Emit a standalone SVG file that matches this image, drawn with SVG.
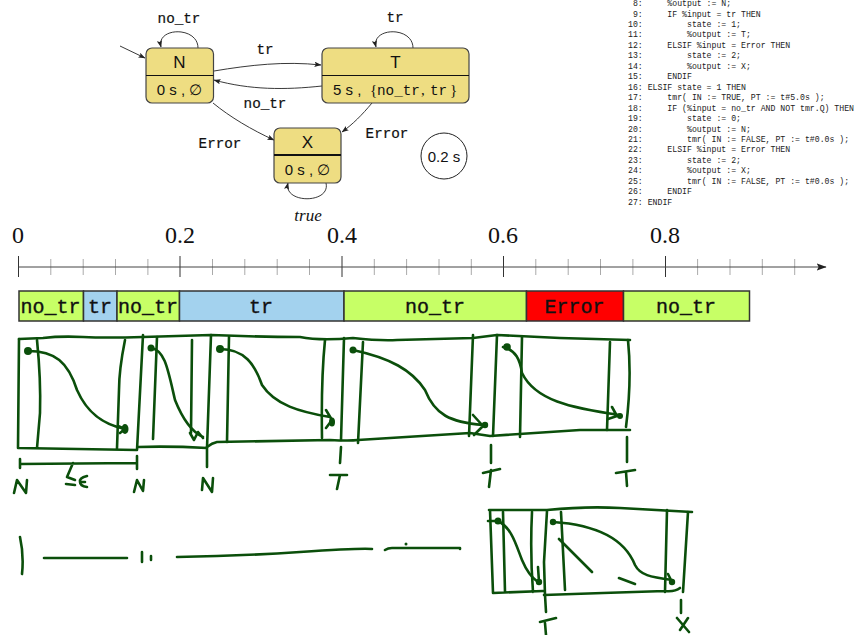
<svg xmlns="http://www.w3.org/2000/svg" width="855" height="635" viewBox="0 0 855 635">
<style>
text{font-family:"Liberation Sans",sans-serif;fill:#111}
.m{font-family:"Liberation Mono",monospace}
.lab{font-family:"Liberation Mono",monospace;font-size:14.3px;text-anchor:middle;stroke:#111;stroke-width:.2}
.bar{font-family:"Liberation Mono",monospace;font-size:20px;text-anchor:middle;stroke:#111;stroke-width:.35}
.code{font-family:"Liberation Mono",monospace;font-size:8.2px;white-space:pre;fill:#222}
.ax{font-family:"Liberation Serif",serif;font-size:24px;text-anchor:middle}
.st{fill:#EEDD82;stroke:#444;stroke-width:1.2}
.dv{stroke:#111;stroke-width:1.2}
.nm{font-size:17px;text-anchor:middle}
.sb{font-size:15px;text-anchor:middle}
.es{font-family:"Liberation Serif",serif}
.e{fill:none;stroke:#222;stroke-width:.9}
.s{stroke:#333;stroke-width:1.5}
.g{fill:#C7FF66}.b{fill:#A3D2EE}.r{fill:#FF0000}
.mj{stroke:#333;stroke-width:1}
.mn{stroke:#aaa;stroke-width:1}
.h{fill:none;stroke:#0B4F0B;stroke-width:2.6;stroke-linecap:round;stroke-linejoin:round}
.d{fill:#0B4F0B}
</style>
<defs>
<marker id="a" viewBox="0 0 8 6" refX="7.5" refY="3" markerWidth="7" markerHeight="5.5" orient="auto" markerUnits="userSpaceOnUse"><path d="M0 0L8 3L0 6L1.6 3Z" fill="#222"/></marker>
<marker id="a2" viewBox="0 0 8 6" refX="7.5" refY="3" markerWidth="10" markerHeight="7.5" orient="auto" markerUnits="userSpaceOnUse"><path d="M0 0L8 3L0 6L1.6 3Z" fill="#222"/></marker>
</defs>

<g id="connectors">
<path class="e" marker-end="url(#a)" d="M120 46L145 58"/>
<path class="e" marker-end="url(#a)" d="M198 48C198 26 156 27 161 47"/>
<path class="e" marker-end="url(#a)" d="M413 48C413 26 371 27 376 47"/>
<path class="e" marker-end="url(#a)" d="M326 183C331 204 283 204 288 183"/>
<path class="e" marker-end="url(#a)" d="M214 71C250 65 285 61 321 65"/>
<path class="e" marker-end="url(#a)" d="M322 86C285 90 250 90 214 80"/>
<path class="e" marker-end="url(#a)" d="M213 103C230 117 252 130 274 140"/>
<path class="e" marker-end="url(#a)" d="M372 103C362 115 353 124 342 132"/>
<text class="lab" x="179" y="23">no_tr</text>
<text class="lab" x="395" y="22">tr</text>
<text class="lab" x="265" y="54">tr</text>
<text class="lab" x="265" y="108">no_tr</text>
<text class="lab" x="220" y="148">Error</text>
<text class="lab" x="387" y="138">Error</text>
<text x="308" y="221" text-anchor="middle" style="font-family:'Liberation Serif',serif;font-style:italic;font-size:17px">true</text>
</g>

<g id="node-N">
<rect class="st" x="146" y="48" width="67.500" height="55" rx="6"/>
<line class="dv" x1="146" y1="75.500" x2="213.500" y2="75.500"/>
<text class="nm" x="179.500" y="67.500">N</text>
<text class="sb" x="179.500" y="95">0 s , <tspan class="es">∅</tspan></text>
</g>
<g id="node-T">
<rect class="st" x="322" y="48" width="147" height="55" rx="6"/>
<line class="dv" x1="322" y1="75.500" x2="469" y2="75.500"/>
<text class="nm" x="395.500" y="67.500">T</text>
<text x="333" y="95" font-size="15">5 s ,</text>
<text x="370" y="95" font-size="15" style="font-family:'Liberation Serif',serif">{</text>
<text class="m" x="377" y="95" font-size="14.300">no_tr</text>
<text x="421" y="95" font-size="15" style="font-family:'Liberation Serif',serif">,</text>
<text class="m" x="430" y="95" font-size="14.300">tr</text>
<text x="450" y="95" font-size="15" style="font-family:'Liberation Serif',serif">}</text>
</g>
<g id="node-X">
<rect class="st" x="274" y="128" width="67" height="55" rx="6"/>
<line class="dv" x1="274" y1="155" x2="341" y2="155" style="stroke-width:1.800"/>
<text class="nm" x="307.500" y="148">X</text>
<text class="sb" x="307.500" y="175">0 s , <tspan class="es">∅</tspan></text>
</g>
<g id="node-period">
<circle cx="444" cy="156" r="23" fill="#fff" stroke="#222" stroke-width="1"/>
<text x="444" y="162" font-size="15" text-anchor="middle">0.2 s</text>
</g>

<g id="code">
<text class="code" x="623.100" y="6">  8:     %output := N;</text>
<text class="code" x="623.100" y="16.500">  9:     IF %input = tr THEN</text>
<text class="code" x="623.100" y="27"> 10:         state := 1;</text>
<text class="code" x="623.100" y="37.400"> 11:         %output := T;</text>
<text class="code" x="623.100" y="47.900"> 12:     ELSIF %input = Error THEN</text>
<text class="code" x="623.100" y="58.300"> 13:         state := 2;</text>
<text class="code" x="623.100" y="68.800"> 14:         %output := X;</text>
<text class="code" x="623.100" y="79.200"> 15:     ENDIF</text>
<text class="code" x="623.100" y="89.700"> 16: ELSIF state = 1 THEN</text>
<text class="code" x="623.100" y="100.100"> 17:     tmr( IN := TRUE, PT := t#5.0s );</text>
<text class="code" x="623.100" y="110.600"> 18:     IF (%input = no_tr AND NOT tmr.Q) THEN</text>
<text class="code" x="623.100" y="121"> 19:         state := 0;</text>
<text class="code" x="623.100" y="131.500"> 20:         %output := N;</text>
<text class="code" x="623.100" y="141.900"> 21:         tmr( IN := FALSE, PT := t#0.0s );</text>
<text class="code" x="623.100" y="152.400"> 22:     ELSIF %input = Error THEN</text>
<text class="code" x="623.100" y="162.800"> 23:         state := 2;</text>
<text class="code" x="623.100" y="173.300"> 24:         %output := X;</text>
<text class="code" x="623.100" y="183.700"> 25:         tmr( IN := FALSE, PT := t#0.0s );</text>
<text class="code" x="623.100" y="194.200"> 26:     ENDIF</text>
<text class="code" x="623.100" y="204.600"> 27: ENDIF</text>
</g>

<g id="axis">
<text class="ax" x="18" y="243">0</text>
<text class="ax" x="180" y="243">0.2</text>
<text class="ax" x="342" y="243">0.4</text>
<text class="ax" x="503" y="243">0.6</text>
<text class="ax" x="665" y="243">0.8</text>
<path class="mn" d="M50.800 259V275M83.200 259V275M115.500 259V275M147.900 259V275M212.500 259V275M244.800 259V275M277.200 259V275M309.500 259V275M374.300 259V275M406.600 259V275M439 259V275M471.300 259V275M535.800 259V275M568.200 259V275M600.500 259V275M632.900 259V275M697.600 259V275M730 259V275M762.300 259V275M794.700 259V275"/>
<path class="mj" d="M18.500 256V277M180 256V277M342 256V277M503.500 256V277M665.500 256V277"/>
<path d="M18.500 267H826" fill="none" stroke="#444" stroke-width="1" marker-end="url(#a2)"/>
</g>

<g id="timeline">
<rect class="s g" x="19" y="291" width="64.500" height="30"/>
<rect class="s b" x="83.500" y="291" width="33.500" height="30"/>
<rect class="s g" x="117" y="291" width="62.500" height="30"/>
<rect class="s b" x="179.500" y="291" width="164.500" height="30"/>
<rect class="s g" x="344" y="291" width="182.500" height="30"/>
<rect class="s r" x="526.500" y="291" width="97" height="30"/>
<rect class="s g" x="623.500" y="291" width="126" height="30"/>
<text class="bar" x="50.500" y="313">no_tr</text>
<text class="bar" x="100" y="313">tr</text>
<text class="bar" x="148" y="313">no_tr</text>
<text class="bar" x="261" y="313">tr</text>
<text class="bar" x="435" y="313">no_tr</text>
<text class="bar" x="574.500" y="313">Error</text>
<text class="bar" x="686" y="313">no_tr</text>
</g>

<g id="handwriting">
<path class="h" d="M19 339L43 338Q60 336 83 337T143 337L211 335Q260 337 300 337Q320 341 353 338Q380 341 397 340L473 338L497 335L560 338L630 340"/>
<path class="h" d="M19 339L18 448L137 450M37 340Q41 380 40 413L37 448M125 340Q119 370 119 390L117 448M143 335L137 450"/>
<path class="h" d="M138 447Q170 446 207 448M157 337L153 439M192 340L191 433M211 335L207 448V467"/>
<path class="h" d="M207 447Q212 443 217 442L330 440Q350 441 358 440L470 433L490 436L580 430L630 430"/>
<path class="h" d="M229 337L227 442M325 340Q321 380 322 438M344 338L341 440M341 447L340 463M363 342L358 443M473 335L469 436"/>
<path class="h" d="M497 335L493 436M522 337L520 437M610 342L607 430M628 340Q632 380 626 427"/>
<circle class="d" cx="28" cy="351" r="4"/><ellipse class="d" cx="125" cy="429" rx="3.500" ry="5"/>
<circle class="d" cx="151" cy="348" r="3.500"/><circle class="d" cx="220" cy="349" r="4"/>
<ellipse class="d" cx="332" cy="422" rx="3" ry="4.500"/><circle class="d" cx="353" cy="350" r="3.500"/>
<circle class="d" cx="485" cy="425" r="3.200"/><circle class="d" cx="507" cy="347" r="3.800"/>
<circle class="d" cx="620" cy="416" r="3"/><circle class="d" cx="498" cy="521" r="3.500"/>
<circle class="d" cx="539" cy="582" r="3.200"/><circle class="d" cx="553" cy="522" r="3.200"/>
<circle class="d" cx="672" cy="582" r="3.200"/><circle class="d" cx="406" cy="544" r="1.500"/>
<path class="h" d="M28 351C55 351 68 362 77 390C88 415 105 425 125 429M118 426L125 429L120 433"/>
<path class="h" d="M151 348C165 350 168 370 175 400C183 420 192 432 203 437M190 433L194 440L198 432L203 438"/>
<path class="h" d="M220 349C245 349 255 365 262 385C275 405 300 412 330 417M326 410L332 420L326 428"/>
<path class="h" d="M353 350C390 358 412 370 425 390C435 415 450 422 483 425M473 415L483 426L474 435"/>
<path class="h" d="M503 347C516 350 520 360 522 373C535 400 570 408 620 415M612 407L617 416L608 419"/>
<path class="h" d="M20 459V468M20 464L137 463M137 456V469M73 463L67 477L75 480M66 484L75 485M87 476Q79 478 80 482Q80 486 87 487M80 482H85"/>
<path class="h" d="M14 493L17 480L26 493L27 480M134 492L137 480L143 491L144 480M202 490L203 478L212 492L213 478"/>
<path class="h" d="M330 475L347 475M340 475L337 489M491 445V463M483 473L500 469M491 470L489 487M627 437V462M616 473L635 470M626 472L627 486"/>
<path class="h" d="M20 537Q24 555 22 574M44 558H127M142 552V562M151 556V560M177 557Q240 556 300 552T372 549M385 550Q388 548 392 548H460L460 549"/>
<path class="h" d="M489 510H547Q587 506 620 508L692 512M490 510L493 593L543 591M503 512L505 592M532 512Q530 552 533 592M547 511L544 562L545 595L546 612M561 512L565 590"/>
<path class="h" d="M544 595L603 593L665 591Q675 592 680 588M667 510L665 592M688 512L683 592"/>
<path class="h" d="M488 521L498 521C512 528 516 545 522 560C527 572 532 578 538 582M538 567L539 582"/>
<path class="h" d="M553 522C600 525 625 540 635 565C640 575 650 577 672 580M668 574L672 582"/>
<path class="h" d="M559 539L592 572M619 578L635 584M540 622L556 618M545 623L546 635M681 600V613M677 618L689 632M688 618L680 630"/>
</g>
</svg>
